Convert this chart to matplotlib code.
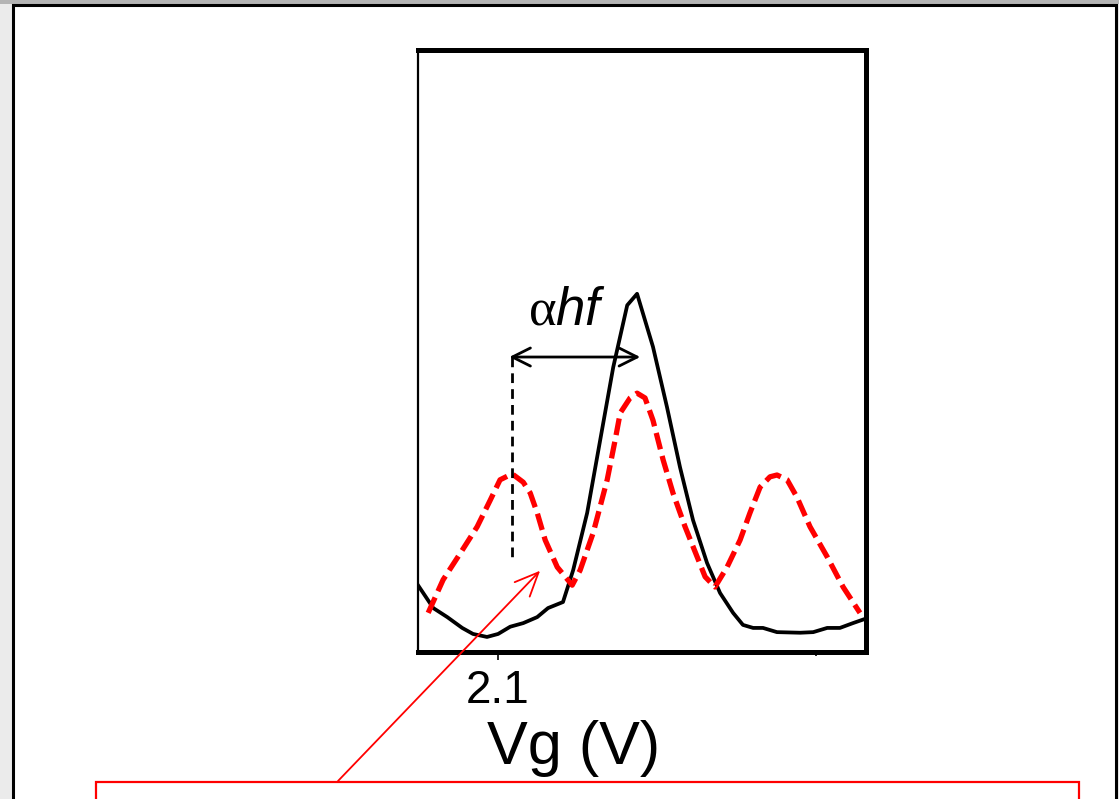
import numpy as np
import matplotlib
matplotlib.use('Agg')
import matplotlib.pyplot as plt
from matplotlib.patches import Rectangle

plt.rcParams['font.family'] = ['Liberation Sans', 'DejaVu Sans']
plt.rcParams['mathtext.fontset'] = 'custom'
plt.rcParams['mathtext.rm'] = 'Liberation Sans'
plt.rcParams['mathtext.it'] = 'Liberation Sans:italic'
plt.rcParams['mathtext.sf'] = 'Liberation Serif'

# gate voltage (V) and current (a.u., % of axis height)
vg_dark = [2.0748, 2.0796, 2.0840, 2.0887, 2.0921, 2.0965, 2.1000, 2.1038, 2.1079,
           2.1123, 2.1157, 2.1204, 2.1236, 2.1280, 2.1321, 2.1362, 2.1406, 2.1437,
           2.1487, 2.1531, 2.1572, 2.1613, 2.1657, 2.1698, 2.1739, 2.1770, 2.1802,
           2.1833, 2.1877, 2.1950, 2.1991, 2.2035, 2.2075, 2.2116, 2.2154]
i_dark = [11.1, 7.3, 5.8, 4.0, 3.0, 2.5, 3.0, 4.2, 4.8, 5.8, 7.3, 8.3, 13.6, 23.1,
          35.2, 47.3, 57.6, 59.5, 50.7, 40.7, 30.7, 21.9, 14.8, 9.8, 6.5, 4.5, 4.0,
          4.0, 3.3, 3.2, 3.3, 4.0, 4.0, 4.8, 5.5]

vg_rf = [2.0780, 2.0827, 2.0881, 2.0934, 2.0975, 2.1006, 2.1044, 2.1079, 2.1101,
         2.1123, 2.1148, 2.1186, 2.1233, 2.1258, 2.1299, 2.1343, 2.1368, 2.1384,
         2.1415, 2.1437, 2.1462, 2.1487, 2.1519, 2.1550, 2.1588, 2.1626, 2.1651,
         2.1682, 2.1720, 2.1761, 2.1792, 2.1824, 2.1855, 2.1877, 2.1909, 2.1940,
         2.1981, 2.2035, 2.2085, 2.2138]
i_rf = [6.5, 12.0, 16.4, 20.8, 25.2, 28.6, 29.6, 28.2, 26.4, 23.1, 18.6, 14.1, 11.1,
        13.6, 19.8, 28.6, 35.2, 39.7, 42.2, 43.0, 42.2, 38.5, 31.9, 26.4, 20.8, 15.8,
        12.5, 10.8, 14.1, 18.6, 23.1, 27.4, 29.1, 29.4, 28.6, 25.7, 20.8, 15.8, 10.8,
        6.5]

x_ticks = [2.1]
x_ticklabels = ['2.1']
x_minor = [2.2]

# photon sideband spacing
shift_start = 2.1035
shift_end = 2.1447
shift_level = 49.0
marker_x = 2.1044
marker_bottom = 15.3
arrow_head = (2.1132, 13.5)

W, H = 1119, 799
fig = plt.figure(figsize=(W / 100, H / 100), dpi=100)
fig.patch.set_facecolor('#ebebeb')

# slide background
fig.patches.append(Rectangle((0, 1 - 4 / H), 1, 4 / H, transform=fig.transFigure,
                             facecolor='#b4b4b4', edgecolor='none', zorder=-2))
fig.patches.append(Rectangle((13 / W, -0.05), (1116 - 13) / W, 1.05 - 5 / H,
                             transform=fig.transFigure, facecolor='white',
                             edgecolor='black', lw=2.2, zorder=-1))
# red callout box
fig.patches.append(Rectangle((96 / W, -0.2), (1079 - 96) / W, 0.2 + 1 - 782 / H,
                             transform=fig.transFigure, facecolor='none',
                             edgecolor='red', lw=1.6, zorder=5))

ax = fig.add_axes([418 / W, (H - 652) / H, (866 - 418) / W, (652 - 50) / H])
ax.plot(vg_dark, i_dark, color='black', lw=2.7, solid_joinstyle='round')
ax.plot(vg_rf, i_rf, color='red', lw=3.8, dashes=(3.2, 1.3))

ax.plot([marker_x, marker_x], [shift_level, marker_bottom], color='black', lw=2.0,
        dashes=(3.5, 2.2))
ax.annotate('', xy=(shift_start, shift_level), xytext=(shift_end, shift_level),
            arrowprops=dict(arrowstyle='<->,head_length=1.3,head_width=0.65',
                            color='black', lw=2.0, shrinkA=0, shrinkB=0))
ax.text((shift_start + shift_end) / 2 - 0.0025, shift_level + 7.7,
        r'$\mathsf{\alpha}hf$', fontsize=38, ha='center', va='center')

ax.annotate('', xy=arrow_head, xycoords='data',
            xytext=(338 / W, 1 - 781 / H), textcoords='figure fraction',
            arrowprops=dict(arrowstyle='->,head_length=1.7,head_width=0.75',
                            color='red', lw=1.3, shrinkA=0, shrinkB=0),
            annotation_clip=False)

ax.set_xlim(2.0748, 2.2157)
ax.set_ylim(0, 100)
ax.set_xticks(x_ticks)
ax.set_xticklabels(x_ticklabels, fontsize=33)
ax.set_xticks(x_minor, minor=True)
ax.tick_params(axis='x', which='major', direction='out', length=6, width=1.2, pad=6)
ax.tick_params(axis='x', which='minor', direction='out', length=3, width=1.2)
ax.set_yticks([])
for side in ['top', 'right', 'bottom']:
    ax.spines[side].set_linewidth(3.6)
ax.spines['left'].set_linewidth(1.6)

ax.set_xlabel('Vg (V)', fontsize=44)
ax.xaxis.set_label_coords((574 - 418) / 448, (652 - 720) / 602)

fig.savefig('out.png', dpi=100, facecolor=fig.get_facecolor())
